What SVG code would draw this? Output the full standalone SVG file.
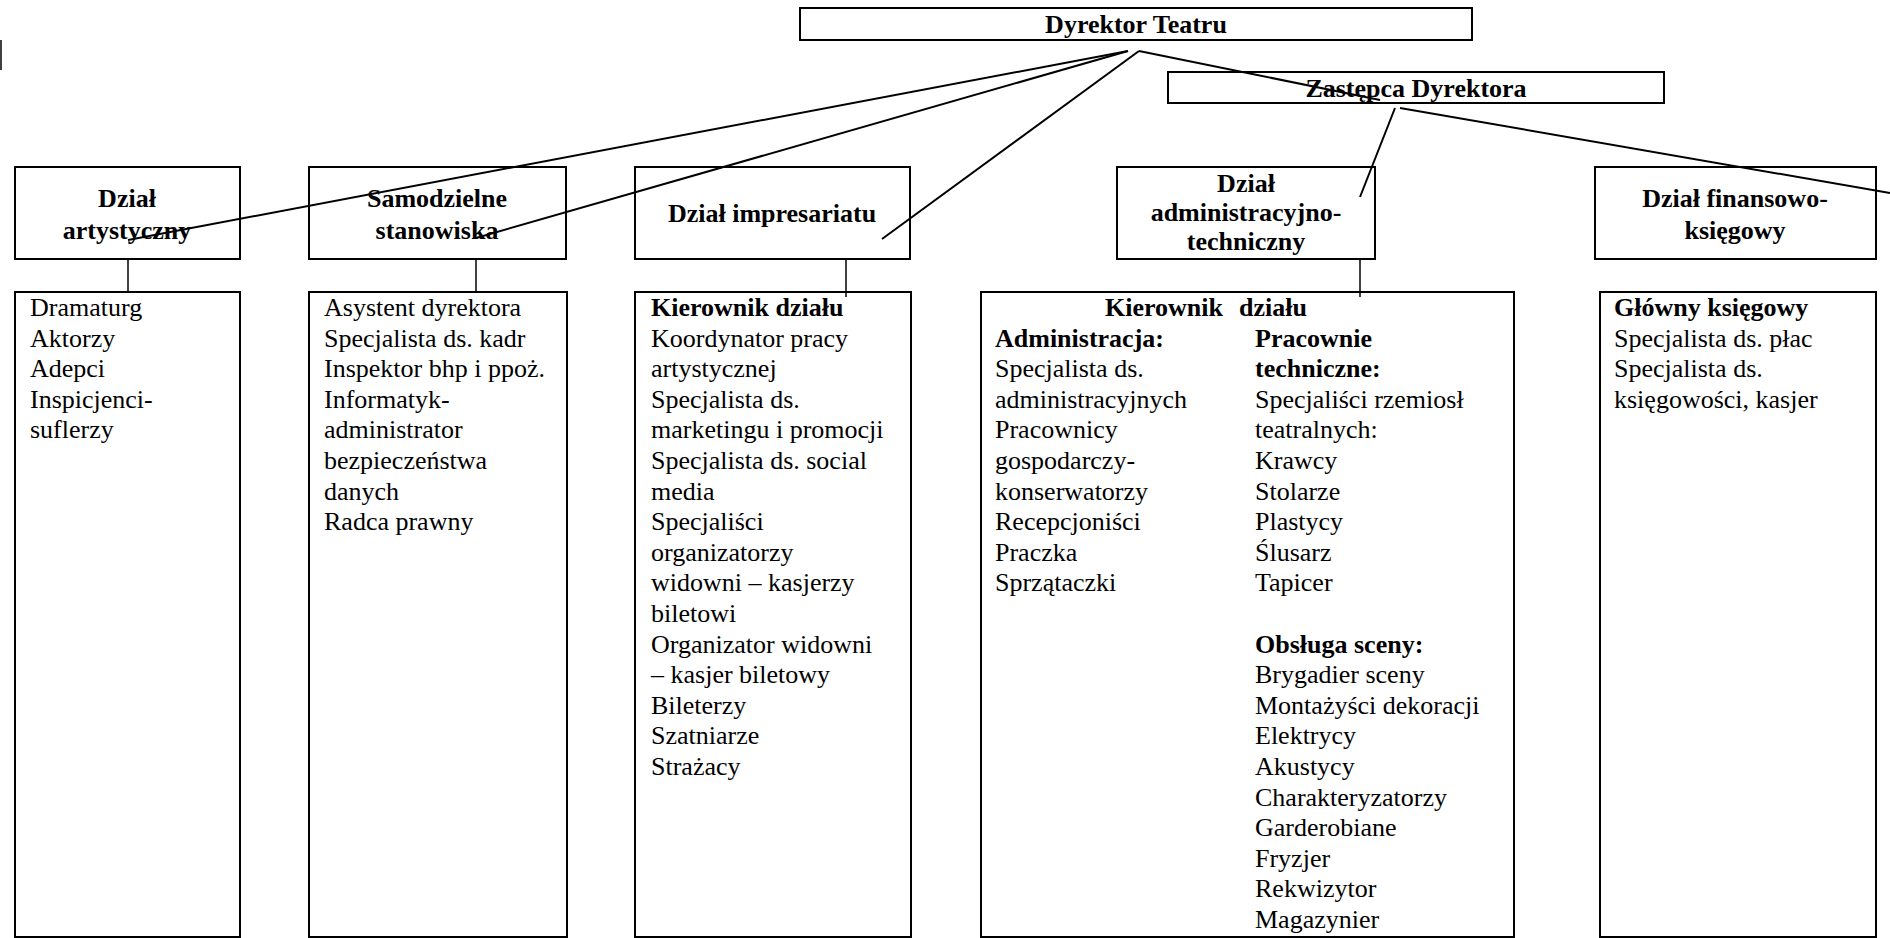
<svg xmlns="http://www.w3.org/2000/svg" width="1890" height="938" viewBox="0 0 1890 938">
<style>
.box{fill:#fff;stroke:#000;stroke-width:2}
.ln{stroke:#000;stroke-width:2;fill:none}
.vl{stroke:#000;stroke-width:1.5;fill:none}
text{font-family:"Liberation Serif","Times New Roman",serif;font-size:26px;fill:#000}
.c{text-anchor:middle}
.b{font-weight:bold}
</style>
<rect width="1890" height="938" fill="#fff"/>
<line class="vl" x1="1" y1="40" x2="1" y2="70"/>

<g id="dyrektor">
<rect class="box" x="800" y="8" width="672" height="32"/>
<text class="c b" x="1136" y="33">Dyrektor Teatru</text>
</g>
<g id="zastepca">
<rect class="box" x="1168" y="72" width="496" height="31"/>
<text class="c b" x="1416" y="97">Zastępca Dyrektora</text>
</g>

<g id="dzial-artystyczny">
<rect class="box" x="15" y="167" width="225" height="92"/>
<text class="c b" x="127" y="207">Dział</text>
<text class="c b" x="127" y="239">artystyczny</text>
</g>
<g id="samodzielne">
<rect class="box" x="309" y="167" width="257" height="92"/>
<text class="c b" x="437" y="207">Samodzielne</text>
<text class="c b" x="437" y="239">stanowiska</text>
</g>
<g id="impresariat">
<rect class="box" x="635" y="167" width="275" height="92"/>
<text class="c b" x="772" y="222">Dział impresariatu</text>
</g>
<g id="administracyjno">
<rect class="box" x="1117" y="167" width="258" height="92"/>
<text class="c b" x="1246" y="192">Dział</text>
<text class="c b" x="1246" y="221">administracyjno-</text>
<text class="c b" x="1246" y="250">techniczny</text>
</g>
<g id="finansowy">
<rect class="box" x="1595" y="167" width="281" height="92"/>
<text class="c b" x="1735" y="207">Dział finansowo-</text>
<text class="c b" x="1735" y="239">księgowy</text>
</g>

<g id="lista-artystyczny">
<rect class="box" x="15" y="292" width="225" height="645"/>
<text x="30" y="316">Dramaturg</text>
<text x="30" y="346.6">Aktorzy</text>
<text x="30" y="377.2">Adepci</text>
<text x="30" y="407.8">Inspicjenci-</text>
<text x="30" y="438.4">suflerzy</text>
</g>
<g id="lista-samodzielne">
<rect class="box" x="309" y="292" width="258" height="645"/>
<text x="324" y="316">Asystent dyrektora</text>
<text x="324" y="346.6">Specjalista ds. kadr</text>
<text x="324" y="377.2">Inspektor bhp i ppoż.</text>
<text x="324" y="407.8">Informatyk-</text>
<text x="324" y="438.4">administrator</text>
<text x="324" y="469">bezpieczeństwa</text>
<text x="324" y="499.6">danych</text>
<text x="324" y="530.2">Radca prawny</text>
</g>
<g id="lista-impresariat">
<rect class="box" x="635" y="292" width="276" height="645"/>
<text class="b" x="651" y="316">Kierownik działu</text>
<text x="651" y="346.6">Koordynator pracy</text>
<text x="651" y="377.2">artystycznej</text>
<text x="651" y="407.8">Specjalista ds.</text>
<text x="651" y="438.4">marketingu i promocji</text>
<text x="651" y="469">Specjalista ds. social</text>
<text x="651" y="499.6">media</text>
<text x="651" y="530.2">Specjaliści</text>
<text x="651" y="560.8">organizatorzy</text>
<text x="651" y="591.4">widowni – kasjerzy</text>
<text x="651" y="622">biletowi</text>
<text x="651" y="652.6">Organizator widowni</text>
<text x="651" y="683.2">– kasjer biletowy</text>
<text x="651" y="713.8">Bileterzy</text>
<text x="651" y="744.4">Szatniarze</text>
<text x="651" y="775">Strażacy</text>
</g>
<g id="lista-administracyjno">
<rect class="box" x="981" y="292" width="533" height="645"/>
<text class="b" x="1105" y="316">Kierownik</text>
<text class="b" x="1239" y="316">działu</text>
<text class="b" x="995" y="346.6">Administracja:</text>
<text x="995" y="377.2">Specjalista ds.</text>
<text x="995" y="407.8">administracyjnych</text>
<text x="995" y="438.4">Pracownicy</text>
<text x="995" y="469">gospodarczy-</text>
<text x="995" y="499.6">konserwatorzy</text>
<text x="995" y="530.2">Recepcjoniści</text>
<text x="995" y="560.8">Praczka</text>
<text x="995" y="591.4">Sprzątaczki</text>
<text class="b" x="1255" y="346.6">Pracownie</text>
<text class="b" x="1255" y="377.2">techniczne:</text>
<text x="1255" y="407.8">Specjaliści rzemiosł</text>
<text x="1255" y="438.4">teatralnych:</text>
<text x="1255" y="469">Krawcy</text>
<text x="1255" y="499.6">Stolarze</text>
<text x="1255" y="530.2">Plastycy</text>
<text x="1255" y="560.8">Ślusarz</text>
<text x="1255" y="591.4">Tapicer</text>
<text class="b" x="1255" y="652.6">Obsługa sceny:</text>
<text x="1255" y="683.2">Brygadier sceny</text>
<text x="1255" y="713.8">Montażyści dekoracji</text>
<text x="1255" y="744.4">Elektrycy</text>
<text x="1255" y="775">Akustycy</text>
<text x="1255" y="805.6">Charakteryzatorzy</text>
<text x="1255" y="836.2">Garderobiane</text>
<text x="1255" y="866.8">Fryzjer</text>
<text x="1255" y="897.4">Rekwizytor</text>
<text x="1255" y="928">Magazynier</text>
</g>
<g id="lista-finansowy">
<rect class="box" x="1600" y="292" width="276" height="645"/>
<text class="b" x="1614" y="316">Główny księgowy</text>
<text x="1614" y="346.6">Specjalista ds. płac</text>
<text x="1614" y="377.2">Specjalista ds.</text>
<text x="1614" y="407.8">księgowości, kasjer</text>
</g>

<g id="connectors">
<line class="ln" x1="1128" y1="51" x2="128" y2="240"/>
<line class="ln" x1="1128" y1="51" x2="476" y2="238"/>
<line class="ln" x1="1139" y1="51" x2="882" y2="239"/>
<line class="ln" x1="1139" y1="51" x2="1380" y2="100"/>
<line class="ln" x1="1395" y1="108" x2="1360" y2="197"/>
<line class="ln" x1="1400" y1="108" x2="1890" y2="193"/>
<line class="vl" x1="128" y1="260" x2="128" y2="293"/>
<line class="vl" x1="476" y1="260" x2="476" y2="293"/>
<line class="vl" x1="846" y1="260" x2="846" y2="297"/>
<line class="vl" x1="1360" y1="260" x2="1360" y2="297"/>
</g>
</svg>
